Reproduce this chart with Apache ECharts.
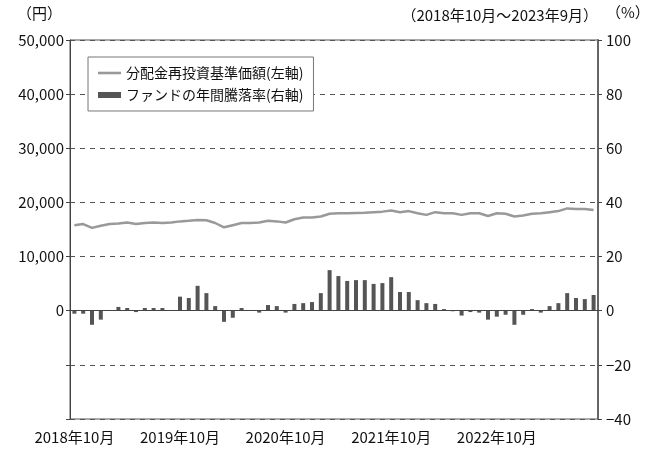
<!DOCTYPE html>
<html>
<head>
<meta charset="utf-8">
<script src="https://cdn.jsdelivr.net/npm/echarts@6/dist/echarts.min.js"></script>
<style>
html, body { margin: 0; padding: 0; background: #fff; }
#main { width: 656px; height: 450px; }
</style>
</head>
<body>
<div id="main"></div>
<script>
var FONT = "'Liberation Sans Narrow', 'Noto Sans CJK JP', sans-serif";

// 2018年10月 ～ 2023年9月（月次）
var months = [];
for (var i = 0; i < 60; i++) {
    var y = 2018 + Math.floor((9 + i) / 12);
    var m = (9 + i) % 12 + 1;
    months.push(y + '年' + m + '月');
}

// 分配金再投資基準価額（円）
var navValues = [
    15800, 16000, 15300, 15700, 16000, 16100, 16300, 16000, 16200, 16300,
    16200, 16300, 16500, 16600, 16750, 16700, 16200, 15400, 15800, 16200,
    16200, 16300, 16600, 16500, 16300, 16900, 17200, 17200, 17400, 17900,
    18000, 18000, 18050, 18100, 18200, 18300, 18500, 18200, 18400, 18000,
    17700, 18200, 18000, 18000, 17700, 18000, 18000, 17500, 18000, 17900,
    17400, 17600, 17900, 18000, 18200, 18400, 18900, 18800, 18800, 18600
];

// ファンドの年間騰落率（%）
var returnValues = [
    -1.1, -1.1, -5.2, -3.3, 0, 1.4, 1.0, -0.5, 1.0, 1.0,
    1.0, 0, 5.2, 4.7, 9.2, 6.5, 1.7, -4.1, -2.6, 1.0,
    0.2, -0.7, 2.1, 1.7, -0.7, 2.5, 2.8, 3.2, 6.5, 15.0,
    12.8, 11.0, 11.3, 11.3, 9.9, 10.2, 12.4, 6.9, 6.9, 3.9,
    2.8, 2.5, 0.6, -0.2, -1.8, -0.5, -0.7, -3.3, -2.2, -1.5,
    -5.2, -1.5, 0.6, -0.7, 1.7, 2.8, 6.5, 4.7, 4.3, 5.8
];

var seriesNames = ['分配金再投資基準価額(左軸)', 'ファンドの年間騰落率(右軸)'];

var myChart = echarts.init(document.getElementById('main'));

var option = {
    animation: false,
    backgroundColor: '#fff',
    textStyle: { fontFamily: FONT },
    grid: {
        left: 70, right: 58, top: 40, bottom: 31,
        show: true, borderColor: '#555', borderWidth: 1
    },
    legend: {
        orient: 'vertical',
        left: 88, top: 57,
        padding: [9, 10, 9, 10],
        itemGap: 8,
        itemWidth: 23, itemHeight: 14,
        borderColor: '#777', borderWidth: 1,
        backgroundColor: '#fff',
        textStyle: { fontSize: 14, color: '#111', fontFamily: FONT },
        data: [
            { name: seriesNames[0], icon: 'path://M0,0H23V2.6H0Z' },
            { name: seriesNames[1], icon: 'path://M0,0H23V6H0Z' }
        ]
    },
    graphic: [
        { type: 'text', left: 17, top: 6, style: { text: '（円）', fontSize: 15, fill: '#111', fontFamily: FONT } },
        { type: 'text', right: 58, top: 8, style: { text: '（2018年10月～2023年9月）', fontSize: 15, fill: '#111', fontFamily: FONT } },
        { type: 'text', left: 606, top: 5, style: { text: '（%）', fontSize: 15, fill: '#111', fontFamily: FONT } }
    ],
    xAxis: {
        type: 'category',
        data: months,
        boundaryGap: true,
        axisLine: { show: false },
        axisTick: { show: false },
        axisLabel: {
            interval: 11,
            margin: 11,
            fontSize: 15,
            color: '#111',
            fontFamily: FONT,
            formatter: function (v) { return /10月$/.test(v) ? v : ''; }
        }
    },
    yAxis: [
        {
            type: 'value',
            min: -20000, max: 50000, interval: 10000,
            axisLine: { show: true, lineStyle: { color: '#444' } },
            axisTick: { show: true, length: 4, lineStyle: { color: '#444' } },
            splitLine: { show: false },
            axisLabel: {
                fontSize: 15, color: '#111', margin: 6, fontFamily: FONT,
                formatter: function (v) {
                    if (v < 0) return '';
                    return v.toString().replace(/\B(?=(\d{3})+(?!\d))/g, ',');
                }
            }
        },
        {
            type: 'value',
            min: -40, max: 100, interval: 20,
            position: 'right',
            axisLine: { show: true, lineStyle: { color: '#666', width: 2 } },
            axisTick: { show: true, length: 4, lineStyle: { color: '#444' } },
            splitLine: { show: true, lineStyle: { color: '#555', type: [5, 5], width: 1 } },
            axisLabel: {
                fontSize: 15, color: '#111', margin: 8, fontFamily: FONT,
                formatter: function (v) { return v < 0 ? '−' + Math.abs(v) : String(v); }
            }
        }
    ],
    series: [
        {
            name: seriesNames[0],
            type: 'line',
            yAxisIndex: 0,
            data: navValues,
            symbol: 'none',
            lineStyle: { color: '#999', width: 2.5 },
            itemStyle: { color: '#999' },
            z: 3
        },
        {
            name: seriesNames[1],
            type: 'bar',
            yAxisIndex: 1,
            data: returnValues,
            barWidth: 4,
            itemStyle: { color: '#555' },
            markLine: {
                silent: true,
                symbol: 'none',
                label: { show: false },
                lineStyle: { color: '#444', type: 'solid', width: 1 },
                data: [{ yAxis: 0 }]
            },
            z: 2
        }
    ]
};

myChart.setOption(option);
</script>
</body>
</html>
